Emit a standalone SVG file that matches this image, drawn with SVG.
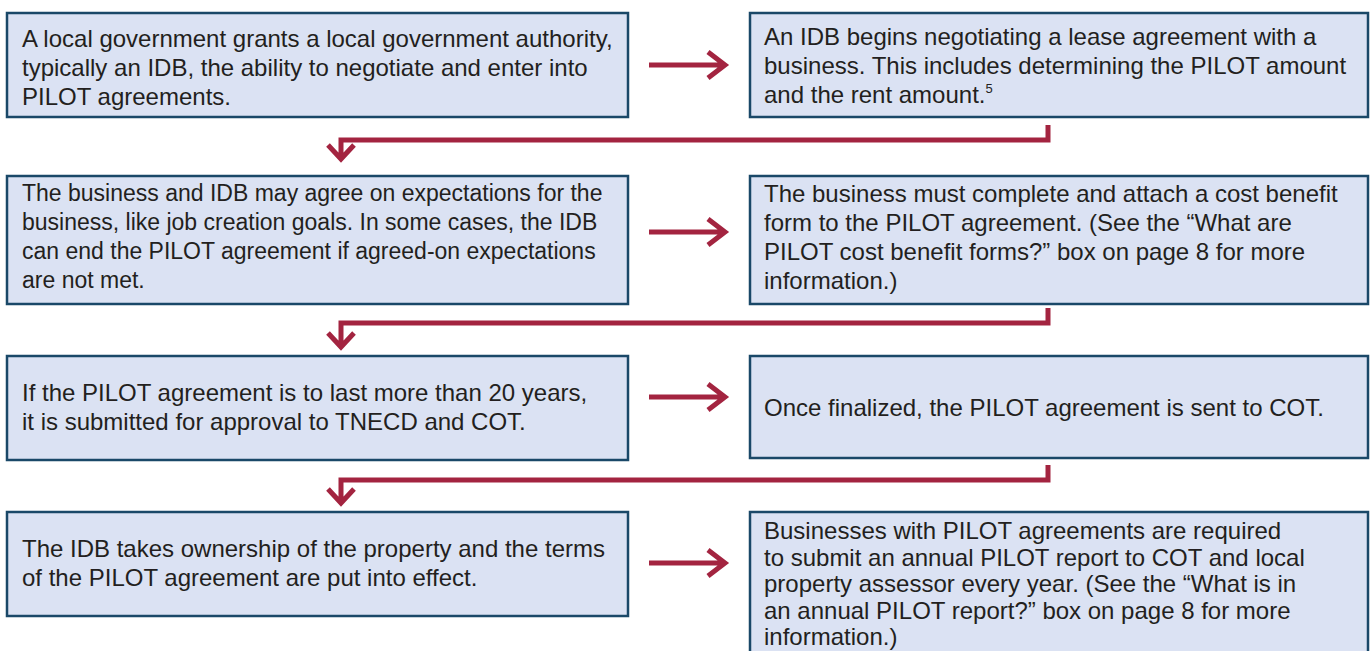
<svg xmlns="http://www.w3.org/2000/svg" width="1370" height="651" viewBox="0 0 1370 651">
<defs>
<style>
.box{fill:#dbe2f3;stroke:#1a4868;stroke-width:2.5}
.t{font-family:"Liberation Sans",Arial,sans-serif;font-size:24px;fill:#231f20}
.s{font-size:23px}
.c{fill:none;stroke:#a32440;stroke-width:5;stroke-linejoin:miter;stroke-linecap:butt}
</style>
</defs>
<rect width="1370" height="651" fill="#ffffff"/>
<g id="n1"><rect class="box" x="7" y="13" width="621" height="104"/>
<text class="t" x="22" y="47">A local government grants a local government authority,</text>
<text class="t" x="22" y="76">typically an IDB, the ability to negotiate and enter into</text>
<text class="t" x="22" y="105">PILOT agreements.</text></g>
<g id="n2"><rect class="box" x="750" y="13" width="618" height="104"/>
<text class="t" x="764" y="45">An IDB begins negotiating a lease agreement with a</text>
<text class="t" x="764" y="74">business. This includes determining the PILOT amount</text>
<text class="t" x="764" y="103">and the rent amount.<tspan font-size="13" dy="-10">5</tspan></text></g>
<g id="n3"><rect class="box" x="7" y="176" width="621" height="128"/>
<text class="t s" x="22" y="201">The business and IDB may agree on expectations for the</text>
<text class="t s" x="22" y="230">business, like job creation goals. In some cases, the IDB</text>
<text class="t s" x="22" y="259">can end the PILOT agreement if agreed-on expectations</text>
<text class="t s" x="22" y="288">are not met.</text></g>
<g id="n4"><rect class="box" x="750" y="176" width="618" height="128"/>
<text class="t" x="764" y="202">The business must complete and attach a cost benefit</text>
<text class="t" x="764" y="231">form to the PILOT agreement. (See the “What are</text>
<text class="t" x="764" y="260">PILOT cost benefit forms?” box on page 8 for more</text>
<text class="t" x="764" y="289">information.)</text></g>
<g id="n5"><rect class="box" x="7" y="356" width="621" height="104"/>
<text class="t" x="22" y="401">If the PILOT agreement is to last more than 20 years,</text>
<text class="t" x="22" y="430">it is submitted for approval to TNECD and COT.</text></g>
<g id="n6"><rect class="box" x="750" y="356" width="618" height="102"/>
<text class="t" x="764" y="416">Once finalized, the PILOT agreement is sent to COT.</text></g>
<g id="n7"><rect class="box" x="7" y="512" width="621" height="104"/>
<text class="t" x="22" y="557">The IDB takes ownership of the property and the terms</text>
<text class="t" x="22" y="586">of the PILOT agreement are put into effect.</text></g>
<g id="n8"><rect class="box" x="750" y="512" width="618" height="150"/>
<text class="t" x="764" y="539">Businesses with PILOT agreements are required</text>
<text class="t" x="764" y="566">to submit an annual PILOT report to COT and local</text>
<text class="t" x="764" y="592">property assessor every year. (See the “What is in</text>
<text class="t" x="764" y="619">an annual PILOT report?” box on page 8 for more</text>
<text class="t" x="764" y="645">information.)</text></g>
<g id="connectors">
<path class="c" d="M649 65H724M708 52L725 65L708 78"/>
<path class="c" d="M649 232H724M708 219L725 232L708 245"/>
<path class="c" d="M649 397H724M708 384L725 397L708 410"/>
<path class="c" d="M649 563H724M708 550L725 563L708 576"/>
<path class="c" d="M1048 125V140H341V158M328 145L341 159L354 145"/>
<path class="c" d="M1048 308V323H341V345M328 333L341 347L354 333"/>
<path class="c" d="M1048 465V480H341V501M328 489L341 503L354 489"/>
</g>
</svg>
